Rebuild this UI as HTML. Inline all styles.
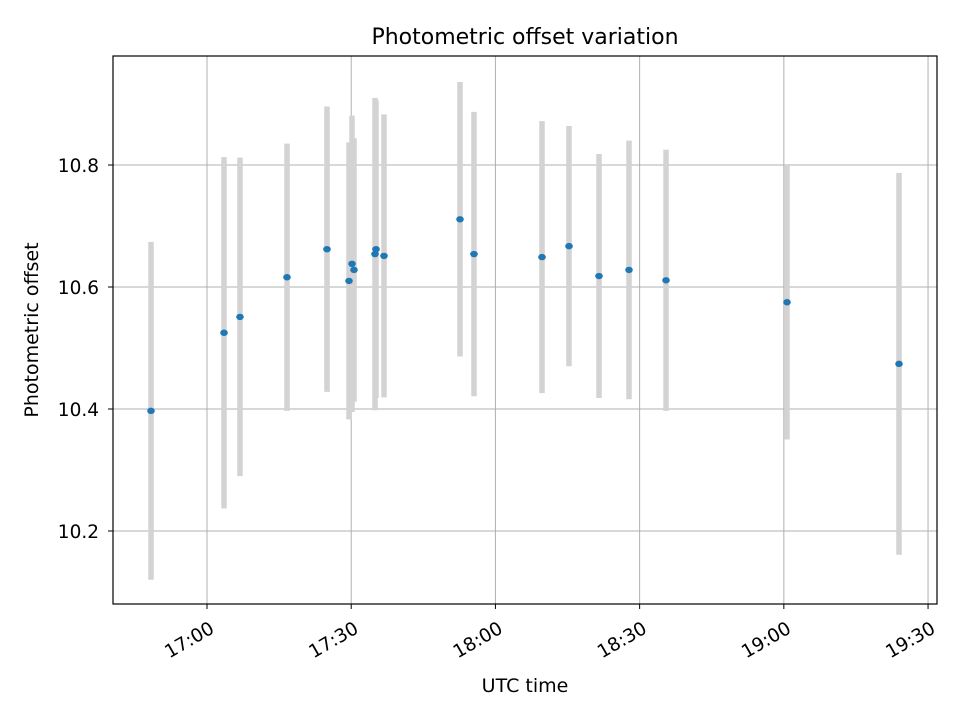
<!DOCTYPE html>
<html><head><meta charset="utf-8"><style>body{margin:0;background:#fff}svg{display:block;font-family:"DejaVu Sans","Liberation Sans",sans-serif}</style></head>
<body>
<svg id="chart" width="960" height="720" xmlns="http://www.w3.org/2000/svg">
<rect width="960" height="720" fill="#fff"/>
<text x="525" y="44" text-anchor="middle" font-size="22" fill="#000">Photometric offset variation</text>
<text x="525" y="692" text-anchor="middle" font-size="19" fill="#000">UTC time</text>
<text transform="translate(38,330) rotate(-90)" text-anchor="middle" font-size="19" fill="#000">Photometric offset</text>
<g id="grid"></g><g id="bars"></g><g id="pts"></g>
<rect x="113" y="56" width="824" height="548" fill="none" stroke="#000" stroke-width="1.2"/>
<g id="ticks"></g>
</svg>
<script>
// minutes since 17:00 UTC
const times=[-11.65,3.54,6.86,16.64,24.96,29.54,30.17,30.58,34.95,35.16,36.82,52.63,55.54,69.69,75.31,81.55,87.79,95.49,120.66,143.96];
const offsets=[10.397,10.525,10.551,10.616,10.662,10.610,10.638,10.628,10.654,10.662,10.651,10.711,10.654,10.649,10.667,10.618,10.628,10.611,10.575,10.474];
const errors=[0.277,0.288,0.261,0.219,0.234,0.227,0.243,0.216,0.256,0.244,0.232,0.225,0.233,0.223,0.197,0.200,0.212,0.214,0.225,0.313];
const xTicks=[0,30,60,90,120,150];
const xTickLabels=["17:00","17:30","18:00","18:30","19:00","19:30"];
const yTicks=[10.2,10.4,10.6,10.8];
const yTickLabels=["10.2","10.4","10.6","10.8"];
const NS="http://www.w3.org/2000/svg";
const X=m=>207+(m)*4.807;
const Y=v=>165-(v-10.8)*610;
function mk(tag,attrs,parent){const e=document.createElementNS(NS,tag);for(const k in attrs)e.setAttribute(k,attrs[k]);document.getElementById(parent).appendChild(e);return e;}
xTicks.forEach((t,i)=>{
  const x=X(t);
  const g=mk('line',{x1:x,x2:x,y1:56,y2:604,stroke:'#b0b0b0','stroke-width':1},'grid');
  
  
  const tk=mk('line',{x1:x,x2:x,y1:604,y2:609,stroke:'#000','stroke-width':1},'ticks');
  
  
  const tl=mk('text',{x:x+1,y:634,'text-anchor':'end','font-size':18.5,transform:`rotate(-30 ${x+1} 619)`},'ticks');
  
  
  tl.textContent=xTickLabels[i];
});
yTicks.forEach((t,i)=>{
  const y=Y(t);
  const g=mk('line',{x1:113,x2:937,y1:y,y2:y,stroke:'#b0b0b0','stroke-width':1},'grid');
  
  
  const tk=mk('line',{x1:108,x2:113,y1:y,y2:y,stroke:'#000','stroke-width':1},'ticks');
  
  
  const tl=mk('text',{x:99,y:y+7,'text-anchor':'end','font-size':18.5},'ticks');
  
  
  tl.textContent=yTickLabels[i];
});
times.forEach((t,i)=>{
  const x=X(t);
  const b=mk('line',{x1:x,x2:x,y1:Y(offsets[i]+errors[i]),y2:Y(offsets[i]-errors[i]),stroke:'#d3d3d3','stroke-width':5.5},'bars');
  
  
});
times.forEach((t,i)=>{
  const p=mk('ellipse',{cx:X(t),cy:Y(offsets[i]),rx:3.8,ry:3.2,fill:'#1f77b4'},'pts');
  
  
});
</script>
</body></html>
